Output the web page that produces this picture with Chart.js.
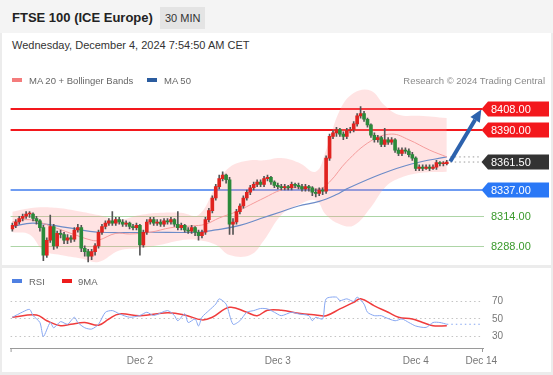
<!DOCTYPE html>
<html>
<head>
<meta charset="utf-8">
<script src="https://cdn.jsdelivr.net/npm/chart.js@4.4.1/dist/chart.umd.min.js"></script>
<style>
  body { margin: 0; width: 553px; height: 375px; background: #ececec; font-family: "Liberation Sans", Arial, sans-serif; overflow: hidden; position: relative; }
  .head { position: absolute; left: 0; top: 0; width: 553px; height: 33px; background: #f4f4f4; }
  .title { position: absolute; left: 12px; top: 10px; font-weight: bold; font-size: 13px; color: #222; }
  .badge { position: absolute; left: 160px; top: 7px; height: 22px; line-height: 22px; padding: 0 5px; background: #e4e4e4; font-size: 11px; color: #333; }
  .panel { position: absolute; left: 2px; width: 549px; background: #fff; }
  .date { position: absolute; left: 12px; top: 39px; font-size: 11px; color: #333; }
  .legend { position: absolute; font-size: 9.5px; color: #666; white-space: nowrap; z-index: 2; }
  .sw { position: absolute; width: 10px; height: 4px; z-index: 2; }
  canvas { position: absolute; left: 0; }
</style>
</head>
<body>
<div class="head"></div>
<div class="title">FTSE 100 (ICE Europe)</div>
<div class="badge">30 MIN</div>
<div class="panel" style="top:33px;height:232px"></div>
<div class="panel" style="top:268px;height:104px"></div>
<div class="date">Wednesday, December 4, 2024 7:54:50 AM CET</div>

<canvas id="priceChart" width="553" height="180" style="top:85px"></canvas>
<canvas id="rsiChart" width="553" height="100" style="top:275px"></canvas>

<div class="sw" style="left:12px;top:78px;background:#f47c7c"></div>
<div class="legend" style="left:29px;top:75px">MA 20 + Bollinger Bands</div>
<div class="sw" style="left:147px;top:78px;background:#2b5c9f"></div>
<div class="legend" style="left:164px;top:75px">MA 50</div>
<div class="legend" style="right:8px;top:75px;color:#8a8a8a">Research © 2024 Trading Central</div>

<div class="sw" style="left:12px;top:279px;background:#4f80e2"></div>
<div class="legend" style="left:29px;top:276px">RSI</div>
<div class="sw" style="left:62px;top:279px;background:#ee1c1c"></div>
<div class="legend" style="left:78px;top:276px">9MA</div>

<script>
// 30-minute candles, Nov 29 -> Dec 4 (index = slot on the time axis)
const opens = [
  8303, 8306, 8309, 8312, 8314, 8316, 8316, 8312, 8310, 8304,
  8280, 8293, 8305, 8288, 8299, 8298, 8293, 8295, 8294, 8302,
  8304, 8286, 8283, 8279, 8283, 8288, 8300, 8305, 8308, 8310,
  8308, 8311, 8309, 8307, 8308, 8305, 8304, 8306, 8289, 8300,
  8309, 8311, 8308, 8309, 8307, 8310, 8309, 8311, 8307, 8304,
  8306, 8302, 8301, 8304, 8300, 8297, 8300, 8311, 8319, 8330,
  8340, 8347, 8350, 8346, 8307, 8309, 8318, 8323, 8330, 8335,
  8339, 8342, 8344, 8342, 8347, 8348, 8344, 8341, 8340, 8339,
  8340, 8339, 8342, 8341, 8340, 8338, 8340, 8339, 8335, 8334,
  8337, 8336, 8365, 8384, 8387, 8390, 8386, 8384, 8389, 8390,
  8395, 8402, 8404, 8399, 8394, 8385, 8381, 8383, 8377, 8381,
  8379, 8381, 8372, 8369, 8372, 8371, 8368, 8365, 8356, 8357,
  8356, 8357, 8356, 8357, 8361, 8360, 8360
];
const closes = [
  8306, 8309, 8312, 8314, 8316, 8316, 8312, 8310, 8304, 8280,
  8293, 8305, 8288, 8299, 8298, 8293, 8295, 8294, 8302, 8304,
  8286, 8283, 8279, 8283, 8288, 8300, 8305, 8308, 8310, 8308,
  8311, 8309, 8307, 8308, 8305, 8304, 8306, 8289, 8300, 8309,
  8311, 8308, 8309, 8307, 8310, 8309, 8311, 8307, 8304, 8306,
  8302, 8301, 8304, 8300, 8297, 8300, 8311, 8319, 8330, 8340,
  8347, 8350, 8346, 8307, 8309, 8318, 8323, 8330, 8335, 8339,
  8342, 8344, 8342, 8347, 8348, 8344, 8341, 8340, 8339, 8340,
  8339, 8342, 8341, 8340, 8338, 8340, 8339, 8335, 8334, 8337,
  8336, 8365, 8384, 8387, 8390, 8386, 8384, 8389, 8390, 8395,
  8402, 8404, 8399, 8394, 8385, 8381, 8383, 8377, 8381, 8379,
  8381, 8372, 8369, 8372, 8371, 8368, 8365, 8356, 8357, 8356,
  8357, 8356, 8357, 8361, 8360, 8360, 8361.5
];
const highs = [
  8308, 8311, 8314, 8316, 8318, 8318, 8317, 8314, 8311, 8306,
  8295, 8315, 8307, 8301, 8302, 8300, 8298, 8297, 8304, 8307,
  8306, 8288, 8285, 8285, 8290, 8302, 8307, 8310, 8312, 8318,
  8313, 8313, 8311, 8310, 8309, 8307, 8308, 8307, 8302, 8311,
  8313, 8313, 8311, 8311, 8312, 8312, 8313, 8312, 8318, 8308,
  8307, 8304, 8306, 8305, 8302, 8302, 8313, 8321, 8332, 8342,
  8350, 8353, 8351, 8348, 8312, 8320, 8325, 8332, 8337, 8341,
  8344, 8346, 8346, 8349, 8350, 8349, 8345, 8343, 8342, 8342,
  8341, 8344, 8343, 8343, 8342, 8342, 8341, 8340, 8338, 8339,
  8339, 8367, 8386, 8389, 8392, 8391, 8388, 8391, 8392, 8397,
  8404, 8410, 8406, 8400, 8395, 8387, 8385, 8384, 8391, 8383,
  8383, 8382, 8374, 8374, 8374, 8373, 8370, 8366, 8359, 8359,
  8359, 8359, 8359, 8363, 8362, 8362, 8363
];
const lows = [
  8301, 8304, 8307, 8310, 8312, 8313, 8310, 8307, 8301, 8275,
  8278, 8291, 8285, 8286, 8295, 8290, 8290, 8291, 8292, 8300,
  8283, 8279, 8274, 8276, 8280, 8286, 8298, 8303, 8306, 8306,
  8306, 8307, 8305, 8305, 8303, 8302, 8302, 8280, 8287, 8298,
  8307, 8306, 8306, 8305, 8305, 8307, 8307, 8305, 8302, 8302,
  8300, 8299, 8299, 8297, 8293, 8295, 8298, 8309, 8317, 8328,
  8338, 8345, 8343, 8298, 8298, 8307, 8316, 8321, 8328, 8333,
  8337, 8340, 8340, 8340, 8345, 8342, 8339, 8338, 8337, 8337,
  8337, 8337, 8339, 8338, 8336, 8336, 8336, 8332, 8331, 8332,
  8333, 8334, 8363, 8382, 8384, 8384, 8381, 8382, 8387, 8388,
  8393, 8400, 8397, 8392, 8383, 8379, 8379, 8375, 8375, 8377,
  8377, 8370, 8367, 8367, 8369, 8366, 8363, 8354, 8354, 8354,
  8355, 8354, 8355, 8355, 8358, 8358, 8359
];

// indicator lines, read at the slots listed in the *Idx arrays
const ma20Idx = [0, 5, 11, 17, 23, 25, 30, 34, 40, 46, 52, 56, 60, 65, 69, 73, 78, 83, 89, 92, 97, 104, 110, 115, 121, 126];
const ma20 = [8309, 8311, 8305.5, 8299, 8293, 8293, 8299, 8298.5, 8300, 8304, 8305.5, 8307, 8312.5, 8318, 8324, 8330, 8337, 8339, 8338, 8344, 8362, 8380, 8386, 8381, 8372, 8366];
const ma50Idx = [0, 6, 16, 25, 40, 54, 59, 66, 72, 78, 83, 89, 94, 97, 107, 116, 126];
const ma50 = [8305, 8308, 8304, 8300, 8300, 8300, 8302, 8306, 8312, 8318, 8323, 8327, 8333, 8338, 8351, 8360, 8366];
const bbIdx = [0, 5, 9, 14, 20, 25, 31, 37, 43, 49, 54, 59, 63, 69, 73, 78, 83, 88, 91, 95, 99, 104, 108, 112, 118, 126];
const bbUpper = [8318, 8321, 8322, 8321, 8318, 8315, 8311, 8315, 8317, 8317, 8315, 8340, 8357, 8363, 8363, 8365, 8361, 8353, 8372, 8407, 8422, 8424, 8411, 8403, 8402, 8400];
const bbLower = [8300, 8298, 8284, 8280, 8277, 8274, 8284, 8286, 8289, 8293, 8293, 8289, 8280, 8280, 8293, 8315, 8324, 8328, 8315, 8307, 8306, 8322, 8339, 8347, 8352, 8353];

const rsiIdx = [0, 3, 5, 6, 8, 9, 11, 12, 14, 16, 18, 19, 21, 23, 25, 27, 29, 31, 34, 37, 39, 41, 45, 47, 48, 50, 51, 53, 54, 55, 57, 59, 60, 62, 64, 66, 68, 70, 72, 74, 76, 78, 81, 83, 86, 87, 88, 90, 91, 94, 95, 97, 99, 100, 102, 103, 105, 107, 108, 111, 113, 115, 117, 120, 122, 124, 126];
const rsiVals = [52, 58, 61, 54, 46, 30, 46, 40, 47, 44, 52, 46, 40, 38.5, 44, 57.7, 59.6, 56, 52, 54, 57.7, 54, 59.6, 54, 48, 56, 46, 50, 42, 52, 59.6, 67, 73, 67, 44, 48, 57.7, 59.6, 62, 61.5, 57.7, 53.8, 57.7, 55.8, 53.8, 48, 52, 50, 73, 75, 71, 73, 70, 75, 67, 57.7, 53.8, 53.8, 52, 48, 50, 46, 42, 40.4, 46, 46, 44];
const rsiMaIdx = [0, 7, 10, 14, 17, 21, 25, 28, 31, 37, 45, 50, 55, 58, 63, 68, 71, 74, 78, 83, 88, 91, 95, 99, 101, 105, 109, 112, 116, 119, 122, 126];
const rsiMa = [52, 54.6, 48, 42.3, 44, 46, 43, 50, 55.8, 53.8, 57, 54.6, 49, 52, 63.4, 57.7, 53.8, 60, 60, 56.5, 54.6, 53.8, 61.5, 69, 73, 65, 57.7, 52, 50, 46, 42.3, 42.3];
const rsiTicks = [30, 50, 70];

// key levels and annotations
const levels = [8408, 8390, 8337, 8314, 8288];
const levelRoles = ["resistance", "resistance", "pivot", "support", "support"];
const lastPrice = 8361.5;
const lastMa = 8366;
const arrowPath = [[127, 8362], [136, 8407.5]];

// time axis: 40 half-hour slots per session, empty slots after the last candle
const slotCount = 137;
const tickIndex = [37, 77, 117, 136];
const tickText = ["Dec 2", "Dec 3", "Dec 4", "Dec 14"];

const slots = Array.from({ length: slotCount }, (_, i) => i);
const spread = (idx, vals) => {
  const out = new Array(slotCount).fill(null);
  idx.forEach((k, j) => { out[k] = vals[j]; });
  return out;
};

const roleStyle = {
  resistance: { line: "#f3181d", width: 2, tag: "#f3181d" },
  pivot: { line: "#6f9cf2", width: 2, tag: "#2a78f6" },
  support: { line: "#add5a6", width: 1.2, text: "#3a9a2c" }
};

function drawTag(ctx, y, text, fill, textColor) {
  const tip = 481.5, shoulder = 488, right = 549, h = 15;
  if (fill) {
    ctx.fillStyle = fill;
    ctx.beginPath();
    ctx.moveTo(tip, y);
    ctx.lineTo(shoulder, y - h / 2);
    ctx.lineTo(right, y - h / 2);
    ctx.lineTo(right, y + h / 2);
    ctx.lineTo(shoulder, y + h / 2);
    ctx.closePath();
    ctx.fill();
  }
  ctx.fillStyle = textColor;
  ctx.font = '11px "Liberation Sans", Arial, sans-serif';
  ctx.textAlign = "left";
  ctx.textBaseline = "middle";
  ctx.fillText(text, 491, y + 0.5);
}

const priceOverlay = {
  id: "priceOverlay",
  beforeDatasetsDraw(chart) {
    const { ctx, chartArea, scales: { y } } = chart;
    ctx.save();
    levels.forEach((v, k) => {
      const st = roleStyle[levelRoles[k]];
      const py = Math.round(y.getPixelForValue(v)) + (st.width === 2 ? 0 : 0.5);
      ctx.strokeStyle = st.line;
      ctx.lineWidth = st.width;
      ctx.beginPath();
      ctx.moveTo(chartArea.left, py);
      ctx.lineTo(st.tag ? 482 : 484, py);
      ctx.stroke();
    });
    ctx.restore();
  },
  afterDraw(chart) {
    const { ctx, scales: { x, y } } = chart;
    ctx.save();
    // arrow
    const x0 = x.getPixelForValue(arrowPath[0][0]), y0 = y.getPixelForValue(arrowPath[0][1]);
    const x1 = x.getPixelForValue(arrowPath[1][0]), y1 = y.getPixelForValue(arrowPath[1][1]);
    const ang = Math.atan2(y1 - y0, x1 - x0);
    const head = 12, half = 5.5;
    const bx = x1 - Math.cos(ang) * head, by = y1 - Math.sin(ang) * head;
    ctx.strokeStyle = "#2d62ad";
    ctx.fillStyle = "#2d62ad";
    ctx.lineWidth = 4;
    ctx.beginPath();
    ctx.moveTo(x0, y0);
    ctx.lineTo(bx, by);
    ctx.stroke();
    ctx.beginPath();
    ctx.moveTo(x1, y1);
    ctx.lineTo(bx + Math.sin(ang) * half, by - Math.cos(ang) * half);
    ctx.lineTo(bx - Math.sin(ang) * half, by + Math.cos(ang) * half);
    ctx.closePath();
    ctx.fill();
    // price tags
    levels.forEach((v, k) => {
      const st = roleStyle[levelRoles[k]];
      const py = Math.round(y.getPixelForValue(v));
      drawTag(ctx, py, v.toFixed(2), st.tag, st.tag ? "#fff" : st.text);
    });
    drawTag(ctx, Math.round(y.getPixelForValue(lastPrice)), lastPrice.toFixed(2), "#333333", "#fff");
    ctx.restore();
  }
};

const upColor = "#e0231f";
const downColor = "#2b8a3a";
const bodyColors = closes.map((c, i) => (c >= opens[i] ? upColor : downColor));

const lineBase = { type: "line", pointRadius: 0, spanGaps: true, tension: 0.4, fill: false };

new Chart(document.getElementById("priceChart"), {
  type: "bar",
  data: {
    labels: slots,
    datasets: [
      { ...lineBase, data: spread(bbIdx, bbUpper), borderWidth: 0, borderColor: "rgba(0,0,0,0)", fill: "+1", backgroundColor: "rgba(255,150,150,0.27)", order: 6 },
      { ...lineBase, data: spread(bbIdx, bbLower), borderWidth: 0, borderColor: "rgba(0,0,0,0)", order: 6 },
      { ...lineBase, data: spread(ma20Idx, ma20), borderColor: "#f59c9c", borderWidth: 1, order: 4 },
      { ...lineBase, data: spread(ma50Idx, ma50), borderColor: "#6d8cc8", borderWidth: 1.2, order: 4 },
      { ...lineBase, data: spread([127, 136], [lastMa, lastMa]), borderColor: "#9a9a9a", borderWidth: 1, borderDash: [1.5, 3], tension: 0, order: 4 },
      { ...lineBase, data: spread([127, 136], [lastPrice, lastPrice]), borderColor: "#9a9a9a", borderWidth: 1, borderDash: [1.5, 3], tension: 0, order: 4 },
      { data: lows.map((l, i) => [l, highs[i]]), backgroundColor: "#555", barThickness: 1, grouped: false, order: 2 },
      { data: opens.map((o, i) => [o, closes[i]]), backgroundColor: bodyColors, barThickness: 3, minBarLength: 1, grouped: false, order: 1 }
    ]
  },
  options: {
    responsive: false,
    animation: false,
    layout: { padding: { left: 10.6, right: 70, top: 0, bottom: 0 } },
    plugins: { legend: { display: false }, tooltip: { enabled: false } },
    scales: {
      x: { display: false, offset: true },
      y: { display: false, min: 8271.3, max: 8429 }
    }
  },
  plugins: [priceOverlay]
});

const axisEnds = {
  id: "axisEnds",
  afterDraw(chart) {
    const { ctx, chartArea } = chart;
    ctx.save();
    ctx.strokeStyle = "#9a9a9a";
    ctx.lineWidth = 1;
    ctx.beginPath();
    [chartArea.left + 0.5, chartArea.right - 0.5].forEach((px) => {
      ctx.moveTo(px, chartArea.bottom);
      ctx.lineTo(px, chartArea.bottom + 4);
    });
    ctx.stroke();
    ctx.restore();
  }
};

new Chart(document.getElementById("rsiChart"), {
  type: "line",
  data: {
    labels: slots,
    datasets: [
      { ...lineBase, data: spread(rsiIdx, rsiVals), borderColor: "#87a7f2", borderWidth: 1, tension: 0.25 },
      { ...lineBase, data: spread(rsiMaIdx, rsiMa), borderColor: "#f03c3c", borderWidth: 1.5 },
      { ...lineBase, data: spread([126, 136], [rsiVals[rsiVals.length - 1], rsiVals[rsiVals.length - 1]]), borderColor: "#87a7f2", borderWidth: 1.2, borderDash: [1.5, 3], tension: 0 }
    ]
  },
  options: {
    responsive: false,
    animation: false,
    layout: { padding: { left: 10.6, right: 0, top: 15, bottom: 0 } },
    plugins: { legend: { display: false }, tooltip: { enabled: false } },
    scales: {
      x: {
        offset: true,
        afterFit(scale) { scale.height = 27; },
        afterBuildTicks(scale) { scale.ticks = tickIndex.map((v) => ({ value: v })); },
        grid: { display: false, drawTicks: false },
        border: { display: true, color: "#9a9a9a", width: 1 },
        ticks: {
          autoSkip: false, maxRotation: 0, padding: 7, color: "#777",
          font: { size: 10, family: '"Liberation Sans", Arial, sans-serif' },
          callback: (v) => tickText[tickIndex.indexOf(v)]
        }
      },
      y: {
        position: "right",
        min: 16.9,
        max: 83.1,
        afterFit(scale) { scale.width = 70; },
        afterBuildTicks(scale) { scale.ticks = rsiTicks.map((v) => ({ value: v })); },
        grid: { color: "#c4c4c4", drawTicks: false },
        border: { display: false, dash: [1.5, 3] },
        ticks: { padding: 9, color: "#777", font: { size: 10, family: '"Liberation Sans", Arial, sans-serif' } }
      }
    }
  },
  plugins: [axisEnds]
});
</script>
</body>
</html>
